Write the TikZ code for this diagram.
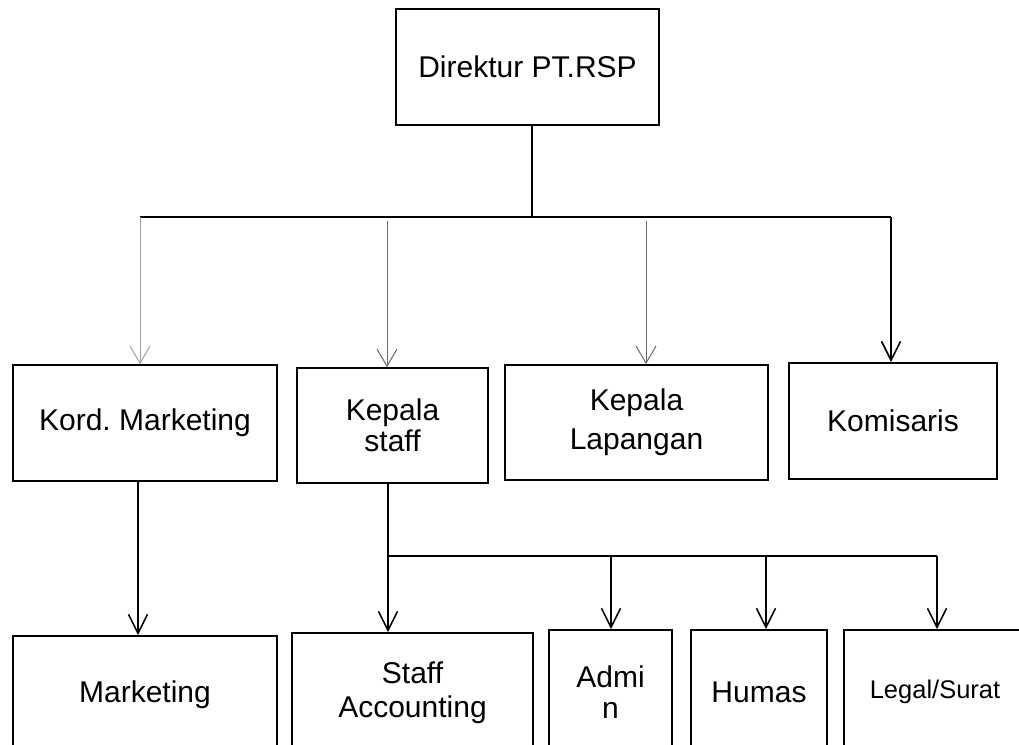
\documentclass[tikz,border=0pt]{standalone}
\usepackage{fontspec}
\setmainfont{Liberation Sans}
\usetikzlibrary{arrows.meta}
\definecolor{lightgr}{HTML}{A0A0A0}
\definecolor{midgr}{HTML}{6A6A6A}
\tikzset{
  box/.style={draw=black, line width=1.8pt, inner sep=0pt, align=center,
    font=\fontsize{30}{34}\selectfont},
  thinarrow/.style={line width=1pt, -{Straight Barb[length=17pt,width=20pt,line width=1pt]}},
  blackarrow/.style={draw=black, line width=1.6pt, -{Straight Barb[length=19pt,width=19pt,line width=1.6pt]}},
  link/.style={draw=black, line width=1.8pt},
}
\begin{document}
\frenchspacing
\begin{tikzpicture}[x=1pt,y=-1pt]
\useasboundingbox (0,0) rectangle (1019,744);
\clip (0,0) rectangle (1019,744);
% boxes
\node[box, minimum width=263pt, minimum height=116pt] (dir) at (527.5,67) {Direktur PT.RSP};
\node[box, minimum width=264pt, minimum height=116pt] (kord) at (145,423) {Kord.\ Marketing};
\node[box, minimum width=191pt, minimum height=115pt] (ks) at (392.5,425.5) {\raisebox{-2pt}{Kepala}\\[-1pt]staff};
\node[box, minimum width=263pt, minimum height=115pt] (kl) at (636.5,422.5) {Kepala\\[5pt]Lapangan};
\node[box, minimum width=208pt, minimum height=116pt] (kom) at (893,421) {Komisaris};
\node[box, minimum width=264pt, minimum height=118pt] (mkt) at (145,695) {Marketing};
\node[box, minimum width=241pt, minimum height=120pt] (sa) at (412.5,693) {Staff\\Accounting};
\node[box, minimum width=123pt, minimum height=124pt] (adm) at (610.5,692) {Admi\\[-3pt]n};
\node[box, minimum width=136pt, minimum height=124pt] (hum) at (759,692) {Humas};
\node[box, minimum width=182pt, minimum height=124pt, font=\fontsize{25.5}{30}\selectfont] (leg) at (935,692) {Legal/Surat};
% coordinates of the junctions
\coordinate (j1) at (532,217);
\coordinate (bl) at (140,217);
\coordinate (br) at (891,217);
\coordinate (a2) at (387,221);
\coordinate (a3) at (646,221);
\coordinate (j2) at (388,556);
\coordinate (jr) at (937,556);
\coordinate (ja) at (611,556);
\coordinate (jh) at (766,556);
\coordinate (km) at (138,0);
% top level connectors
\draw[link] (j1 |- dir.south) -- (j1);
\draw[link] (bl) -- (br);
\draw[thinarrow, lightgr] (bl) -- (bl |- kord.north);
\draw[thinarrow, midgr] (a2) -- (a2 |- ks.north);
\draw[thinarrow, midgr] (a3) -- (a3 |- kl.north);
\draw[blackarrow] (br) -- (br |- kom.north);
% lower connectors
\draw[blackarrow] (km |- kord.south) -- (km |- mkt.north);
\draw[blackarrow] (j2 |- ks.south) -- (j2 |- sa.north);
\draw[draw=black, line width=1.6pt] (j2) -- (jr);
\draw[blackarrow] (ja) -- (ja |- adm.north);
\draw[blackarrow] (jh) -- (jh |- hum.north);
\draw[blackarrow] (jr) -- (jr |- leg.north);
\end{tikzpicture}
\end{document}
